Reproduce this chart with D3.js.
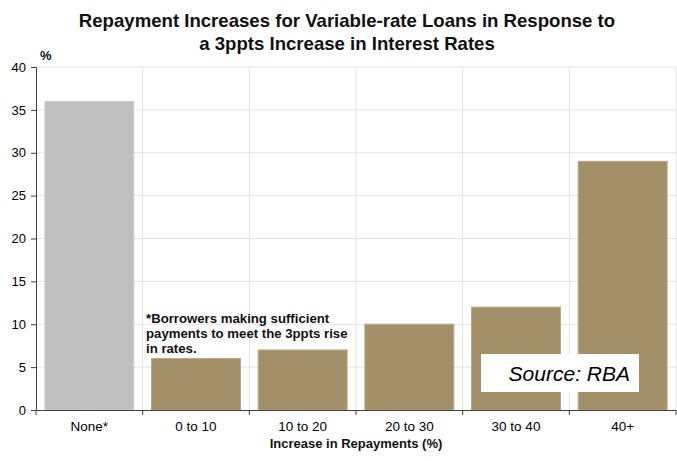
<!DOCTYPE html>
<html>
<head>
<meta charset="utf-8">
<script src="https://cdn.jsdelivr.net/npm/d3@7/dist/d3.min.js"></script>
<style>
  html, body { margin: 0; padding: 0; background: #fff; }
  svg { display: block; font-family: "Liberation Sans", Arial, sans-serif; }
</style>
</head>
<body>
<svg id="chart" width="677" height="461"></svg>
<script>
// Share of variable-rate borrowers by repayment increase bucket
const categories = ["None*", "0 to 10", "10 to 20", "20 to 30", "30 to 40", "40+"];
const values = [36, 6, 7, 10, 12, 29];
const yTicks = [0, 5, 10, 15, 20, 25, 30, 35, 40];
const titleLines = [
  "Repayment Increases for Variable-rate Loans in Response to",
  "a 3ppts Increase in Interest Rates"
];
const noteLines = [
  "*Borrowers making sufficient",
  "payments to meet the 3ppts rise",
  "in rates."
];

const svg = d3.select("#chart");
const plot = { left: 36, right: 676, top: 67, bottom: 410 };

const x = d3.scaleBand()
  .domain(categories)
  .range([plot.left, plot.right])
  .paddingInner(0.166)
  .paddingOuter(0.083);

const y = d3.scaleLinear().domain([0, 40]).range([plot.bottom, plot.top]);

// band boundaries for vertical gridlines and x ticks
const step = (plot.right - plot.left) / categories.length;
const bounds = d3.range(categories.length + 1).map(i => plot.left + i * step);

// gridlines
svg.append("g").selectAll("line.h")
  .data(yTicks.filter(d => d > 0))
  .join("line")
  .attr("x1", plot.left).attr("x2", plot.right)
  .attr("y1", d => y(d)).attr("y2", d => y(d))
  .attr("stroke", "#e3e3e3").attr("stroke-width", 1);

svg.append("g").selectAll("line.v")
  .data(bounds.slice(1))
  .join("line")
  .attr("x1", d => d).attr("x2", d => d)
  .attr("y1", plot.top).attr("y2", plot.bottom)
  .attr("stroke", "#e3e3e3").attr("stroke-width", 1);

// bars
svg.append("g").selectAll("rect")
  .data(categories.map((c, i) => ({ c, v: values[i] })))
  .join("rect")
  .attr("x", d => x(d.c))
  .attr("width", x.bandwidth())
  .attr("y", d => y(d.v))
  .attr("height", d => y(0) - y(d.v))
  .attr("fill", (d, i) => i === 0 ? "#bfbfbf" : "#a39069")
  .attr("stroke", (d, i) => i === 0 ? "#d0d0d0" : "#b8a98a")
  .attr("stroke-width", 1);

// y axis
const yAxis = d3.axisLeft(y).tickValues(yTicks).tickSize(5).tickPadding(5);
const gy = svg.append("g").attr("transform", `translate(${plot.left},0)`).call(yAxis);
gy.select(".domain").attr("stroke", "#404040");
gy.selectAll(".tick line").attr("stroke", "#404040");
gy.selectAll(".tick text").attr("font-size", 13).attr("fill", "#000")
  .attr("font-family", "Liberation Sans, Arial, sans-serif");

// x axis line and boundary ticks
svg.append("line")
  .attr("x1", plot.left).attr("x2", plot.right)
  .attr("y1", plot.bottom + 0.5).attr("y2", plot.bottom + 0.5)
  .attr("stroke", "#404040");
svg.append("g").selectAll("line")
  .data(bounds)
  .join("line")
  .attr("x1", d => d).attr("x2", d => d)
  .attr("y1", plot.bottom).attr("y2", plot.bottom + 5)
  .attr("stroke", "#404040");

svg.append("g").selectAll("text")
  .data(categories)
  .join("text")
  .attr("x", d => x(d) + x.bandwidth() / 2)
  .attr("y", 431)
  .attr("text-anchor", "middle")
  .attr("font-size", 13.5)
  .attr("fill", "#000")
  .text(d => d);

// axis title
svg.append("text")
  .attr("x", 356).attr("y", 448)
  .attr("text-anchor", "middle")
  .attr("font-size", 13).attr("font-weight", "bold")
  .attr("fill", "#111")
  .text("Increase in Repayments (%)");

// unit label
svg.append("text")
  .attr("x", 40).attr("y", 60)
  .attr("font-size", 13).attr("font-weight", "bold")
  .attr("fill", "#111")
  .text("%");

// title
svg.append("g").selectAll("text")
  .data(titleLines)
  .join("text")
  .attr("x", 347)
  .attr("y", (d, i) => 27 + i * 23)
  .attr("text-anchor", "middle")
  .attr("font-size", 18.6).attr("font-weight", "bold")
  .attr("fill", "#111")
  .text(d => d);

// footnote
svg.append("g").selectAll("text")
  .data(noteLines)
  .join("text")
  .attr("x", 146)
  .attr("y", (d, i) => 323 + i * 15)
  .attr("font-size", 13.2).attr("font-weight", "bold")
  .attr("fill", "#111")
  .text(d => d);

// source box
svg.append("rect")
  .attr("x", 481).attr("y", 354)
  .attr("width", 158).attr("height", 38)
  .attr("fill", "#fff");
svg.append("text")
  .attr("x", 630).attr("y", 381)
  .attr("text-anchor", "end")
  .attr("font-size", 21).attr("font-style", "italic")
  .attr("fill", "#000")
  .text("Source: RBA");
</script>
</body>
</html>
